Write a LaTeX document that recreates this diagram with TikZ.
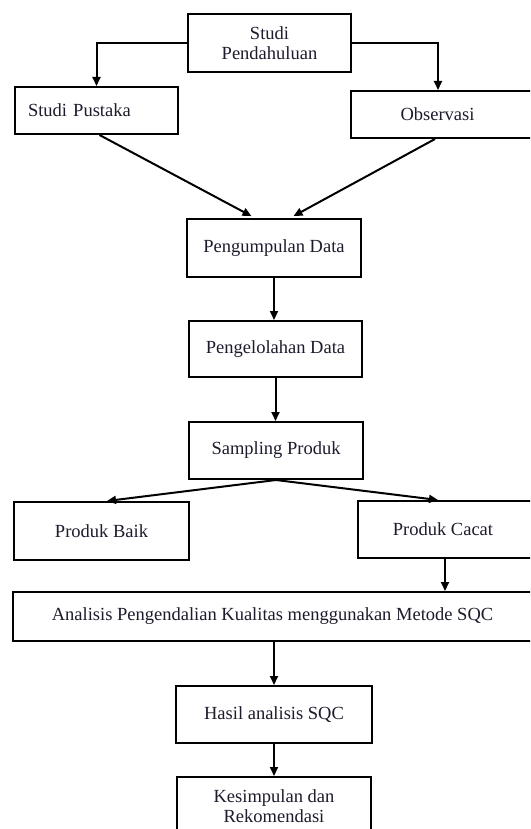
\documentclass[tikz,border=0pt]{standalone}
\usepackage{fontspec}
\setmainfont{Liberation Serif}
\usetikzlibrary{arrows.meta}
\definecolor{txtc}{RGB}{28,28,45}
\tikzset{
  box/.style={draw=black, line width=2pt, rectangle, inner sep=0pt, align=center,
    text=txtc, font=\fontsize{18.5}{20}\selectfont},
  arr/.style={draw=black, line width=2pt, -{Triangle[length=9pt,width=8pt]}}
}
\begin{document}
\begin{tikzpicture}[x=1pt,y=1pt]
\useasboundingbox (0,0) rectangle (530,-829);
\clip (0,0) rectangle (530,-829);
\fill[white] (0,0) rectangle (530,-829);

\node[box, minimum width=163pt, minimum height=58pt] (sp) at (269.5,-43) {Studi\\Pendahuluan};
\node[box, minimum width=163pt, minimum height=47pt, text width=137pt, align=left] (pus) at (96.5,-110.5) {Studi Pustaka};
\node[box, minimum width=181pt, minimum height=47pt] (obs) at (441.5,-114.5) {\hspace*{-8pt}Observasi};
\node[box, minimum width=174pt, minimum height=58pt] (pd) at (274,-248) {Pengumpulan Data};
\node[box, minimum width=173pt, minimum height=56pt] (pl) at (275.5,-349) {Pengelolahan Data};
\node[box, minimum width=174pt, minimum height=57pt] (spr) at (276,-450.5) {Sampling Produk};
\node[box, minimum width=175pt, minimum height=58pt] (pb) at (101.5,-531) {Produk Baik};
\node[box, minimum width=174pt, minimum height=57pt] (pc) at (445,-529.5) {\hspace*{-4pt}Produk Cacat};
\node[box, minimum width=519pt, minimum height=49pt] (an) at (272.5,-616.5) {Analisis Pengendalian Kualitas menggunakan Metode SQC};
\node[box, minimum width=196pt, minimum height=57pt] (ha) at (274,-714.5) {Hasil analisis SQC};
\node[box, minimum width=194pt, minimum height=59pt] (ks) at (274,-806.5) {Kesimpulan dan\\Rekomendasi};

\draw[arr] (sp.west) -| (pus.north);
\draw[arr] (sp.east) -| ([xshift=-3.5pt]obs.north);
\draw[arr, shorten >=4pt] ([xshift=3pt]pus.south) -- ([xshift=-19pt]pd.north);
\draw[arr, shorten >=4pt] ([xshift=-6.5pt]obs.south) -- ([xshift=16pt]pd.north);
\draw[arr] (pd.south) -- (pd.south |- pl.north);
\draw[arr] (pl.south) -- (pl.south |- spr.north);
\draw[arr] (spr.south) -- ([xshift=5.5pt]pb.north);
\draw[arr] (spr.south) -- ([xshift=-7pt]pc.north);
\draw[arr] (pc.south) -- (pc.south |- an.north);
\draw[arr] (ha.north |- an.south) -- (ha.north);
\draw[arr] (ha.south) -- (ks.north);
\end{tikzpicture}
\end{document}
